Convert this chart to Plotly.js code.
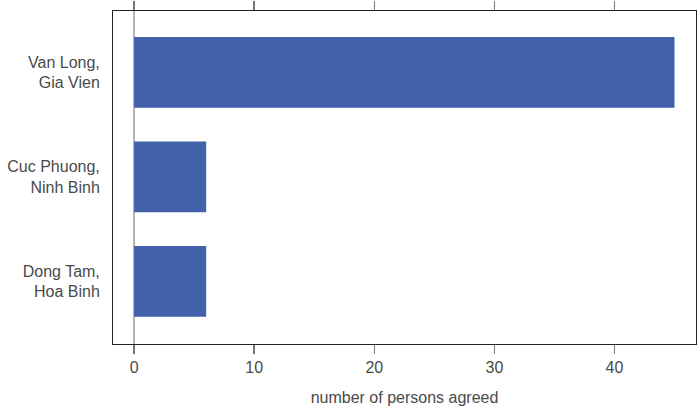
<!DOCTYPE html>
<html>
<head>
<meta charset="utf-8">
<script src="https://cdn.plot.ly/plotly-3.0.1.min.js"></script>
<style>html,body{margin:0;padding:0;background:#fff;}#chart{width:698px;height:406px;}</style>
</head>
<body>
<div id="chart"></div>
<script>
var categories = ["Dong Tam,<br>Hoa Binh", "Cuc Phuong,<br>Ninh Binh", "Van Long,<br>Gia Vien"];
var agreed = [6, 6, 45];
var xTicks = [0, 10, 20, 30, 40];
var xTitle = "number of persons agreed";

var font = {family: "Liberation Sans, Arial, sans-serif", size: 16, color: "#4a4a4a"};

Plotly.newPlot("chart", [{
  type: "bar",
  orientation: "h",
  y: categories,
  x: agreed,
  width: 0.677,
  marker: {color: "#4161aa", line: {width: 0}},
  hoverinfo: "none"
}], {
  width: 698, height: 406,
  margin: {l: 112.5, r: 2, t: 11, b: 62, pad: 0},
  paper_bgcolor: "#fff", plot_bgcolor: "#fff",
  font: font,
  showlegend: false,
  xaxis: {
    range: [-1.76, 46.79],
    tickvals: xTicks,
    ticks: "outside", ticklen: 9, tickwidth: 1.5, tickcolor: "#777",
    showgrid: false,
    zeroline: true, zerolinecolor: "#b4b4b4", zerolinewidth: 2,
    showline: true, linecolor: "#222", linewidth: 1, mirror: "ticks",
    tickfont: font,
    title: {text: xTitle, font: font, standoff: 16}
  },
  yaxis: {
    type: "category",
    range: [-0.6, 2.587],
    ticks: "", showgrid: false, zeroline: false,
    showline: true, linecolor: "#222", linewidth: 1, mirror: true,
    tickfont: font,
    ticklabelstandoff: 9
  }
}, {staticPlot: true, displayModeBar: false});
</script>
</body>
</html>
